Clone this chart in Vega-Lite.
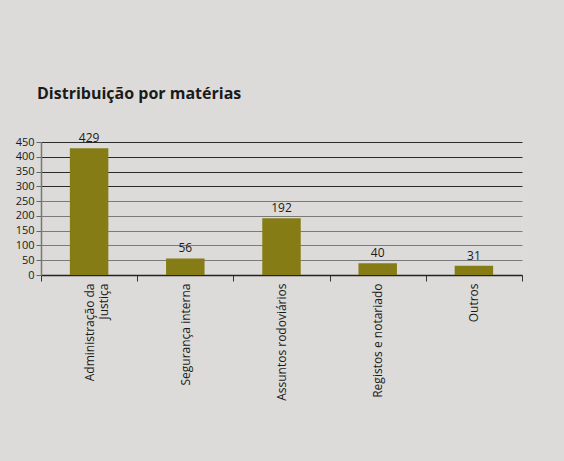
{
  "$schema": "https://vega.github.io/schema/vega-lite/v6.json",
  "width": 481,
  "height": 133,
  "autosize": {"type": "none"},
  "padding": {"left": 41, "top": 142, "right": 42, "bottom": 186},
  "background": "#dcdbd9",
  "title": {
    "text": "Distribuição por matérias",
    "anchor": "start",
    "frame": "group",
    "dx": -4,
    "offset": 30,
    "font": "Open Sans",
    "fontSize": 16,
    "fontWeight": "bold",
    "color": "#1a1a1a"
  },
  "data": {
    "values": [
      {"key": "A", "valor": 429},
      {"key": "B", "valor": 56},
      {"key": "C", "valor": 192},
      {"key": "D", "valor": 40},
      {"key": "E", "valor": 31}
    ]
  },
  "encoding": {
    "x": {
      "field": "key",
      "type": "nominal",
      "sort": null,
      "scale": {"paddingInner": 0, "paddingOuter": 0},
      "axis": {
        "title": null,
        "labelExpr": "datum.value == 'A' ? ['Administração da', 'Justiça'] : datum.value == 'B' ? 'Segurança interna' : datum.value == 'C' ? 'Assuntos rodoviários' : datum.value == 'D' ? 'Registos e notariado' : datum.value == 'E' ? 'Outros' : ''",
        "labelAngle": -90,
        "labelAlign": "right",
        "labelBaseline": "middle",
        "labelFont": "Open Sans",
        "labelFontSize": 12,
        "labelColor": "#1a1a1a",
        "labelPadding": 2,
        "labelLineHeight": 14,
        "tickBand": "extent",
        "tickSize": 6,
        "tickColor": "#333333",
        "domainColor": "#222222",
        "domainWidth": 1.5,
        "grid": false
      }
    },
    "y": {
      "field": "valor",
      "type": "quantitative",
      "scale": {"domain": [0, 450], "nice": false},
      "axis": {
        "title": null,
        "values": [0, 50, 100, 150, 200, 250, 300, 350, 400, 450],
        "labelFont": "Open Sans",
        "labelFontSize": 11,
        "labelColor": "#1a1a1a",
        "labelPadding": 2,
        "labelOverlap": false,
        "tickSize": 5,
        "tickColor": "#666666",
        "domainColor": "#777777",
        "domainWidth": 1.5,
        "gridColor": {"condition": {"test": "datum.value >= 300", "value": "#2a2a2a"}, "value": "#7a7a7a"},
        "gridWidth": 1.2
      }
    }
  },
  "layer": [
    {
      "mark": {"type": "bar", "color": "#857c15", "width": {"band": 0.4}}
    },
    {
      "mark": {"type": "text", "baseline": "bottom", "dy": -3, "font": "Open Sans", "fontSize": 12, "color": "#1a1a1a"},
      "encoding": {
        "text": {"field": "valor", "type": "quantitative"}
      }
    }
  ]
}
